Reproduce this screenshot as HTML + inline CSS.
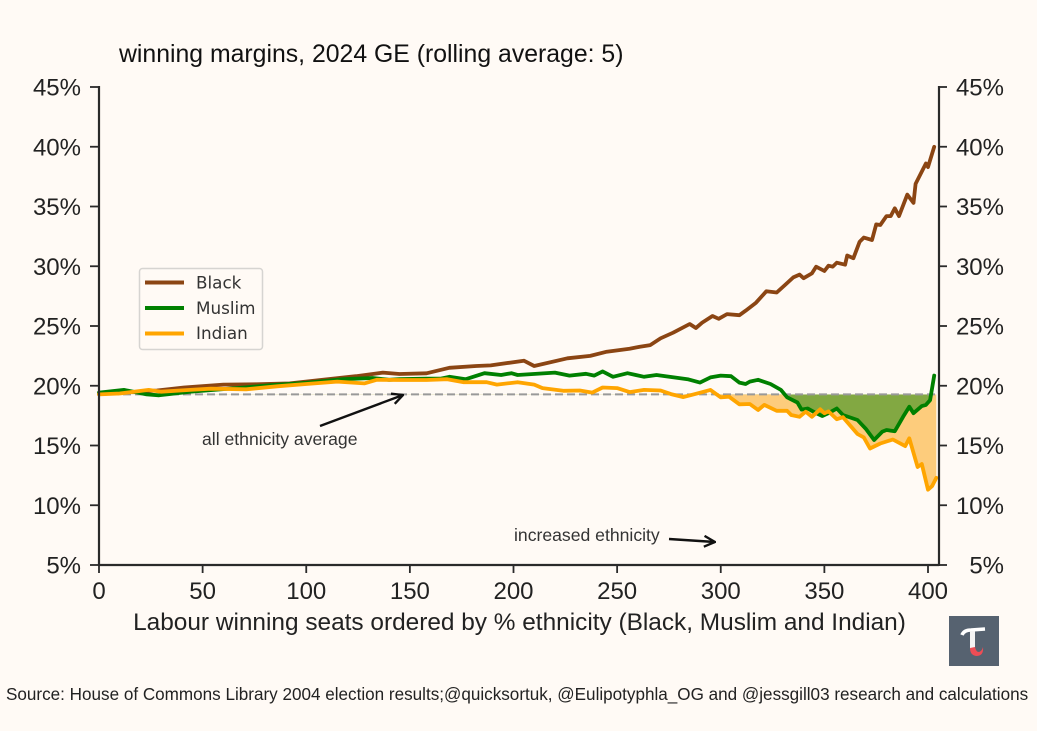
<!DOCTYPE html>
<html lang="en">
<head>
<meta charset="utf-8">
<title>Winning margins, 2024 GE</title>
<style>
html,body{margin:0;padding:0;background:#fffaf5;}
body{width:1037px;height:731px;overflow:hidden;}
svg{display:block;font-family:"Liberation Sans",Arial,sans-serif;filter:blur(0.35px);}
</style>
</head>
<body>
<svg id="chart" width="1037" height="731" viewBox="0 0 1037 731">
  <rect x="0" y="0" width="1037" height="731" fill="#fffaf5"/>
  <text x="119" y="62" font-size="24.8" fill="#111">winning margins, 2024 GE (rolling average: 5)</text>
  <g id="fills"></g>
  <g id="baseline"></g>
  <g id="lines"></g>
  <g id="axes"></g>
  <defs>
    <clipPath id="belowBase"><rect id="belowRect" x="0" y="0" width="1037" height="731"/></clipPath>
    <marker id="arrowHead" viewBox="0 0 12 12" refX="11" refY="6" markerWidth="13" markerHeight="13" orient="auto" markerUnits="userSpaceOnUse"><path d="M1,1 L11,6 L1,11" fill="none" stroke="#111" stroke-width="2.2"/></marker>
  </defs>

  <g>
    <rect x="139.5" y="268.5" width="123" height="81" rx="3" fill="#fffaf5" stroke="#d6d4d1" stroke-width="1.5"/>
    <line x1="145" y1="282.5" x2="184" y2="282.5" stroke="#8b4513" stroke-width="4"/>
    <text x="196" y="288.5" font-family="'DejaVu Sans',sans-serif" font-size="16.8" fill="#333">Black</text>
    <line x1="145" y1="308" x2="184" y2="308" stroke="#008000" stroke-width="4"/>
    <text x="196" y="314" font-family="'DejaVu Sans',sans-serif" font-size="16.8" fill="#333">Muslim</text>
    <line x1="145" y1="333.5" x2="184" y2="333.5" stroke="#ffa500" stroke-width="4"/>
    <text x="196" y="339" font-family="'DejaVu Sans',sans-serif" font-size="16.8" fill="#333">Indian</text>
  </g>

  <text x="202" y="445" font-size="17.6" fill="#333">all ethnicity average</text>
  <line x1="320" y1="426" x2="403" y2="395" stroke="#111" stroke-width="2.4" marker-end="url(#arrowHead)"/>
  <text x="514" y="541" font-size="17.6" fill="#333">increased ethnicity</text>
  <line x1="669" y1="539" x2="715" y2="542" stroke="#111" stroke-width="2.4" marker-end="url(#arrowHead)"/>

  <text x="519.5" y="630" text-anchor="middle" font-size="24.4" fill="#222">Labour winning seats ordered by % ethnicity (Black, Muslim and Indian)</text>

  <g>
    <rect x="949" y="616" width="50" height="50" fill="#566270"/>
    <path d="M962,635 Q964,630 971,630 L985,629" fill="none" stroke="#fff" stroke-width="3.6"/>
    <path d="M972.5,631 L972.5,649" fill="none" stroke="#f4f4f4" stroke-width="5"/>
    <path d="M970,648 L975,647 Q976,652 979,652 Q982,651 983,647 Q984,656 976,656 Q970,655 970,648 Z" fill="#ee4d55"/>
  </g>

  <text x="6" y="700" font-size="17.1" fill="#222">Source: House of Commons Library 2004 election results;@quicksortuk, @Eulipotyphla_OG and @jessgill03 research and calculations</text>
</svg>
<script>
var xTicks = [0, 50, 100, 150, 200, 250, 300, 350, 400];
var yTicks = [5, 10, 15, 20, 25, 30, 35, 40, 45];
var averageMargin = 19.28;

var blackSeats = [0,10,28,41,60,76,92,108,124,137,145,158,169,182,189,205,210,226,237,245,256,261,266,271,277,285,288,291,296,299,303,309,312,317,322,327,331,335,338,340,344,346,350,352,354,356,360,361,364,367,369,373,375,377,380,382,384,386,390,393,394,399,400,403];
var blackValues = [19.3,19.4,19.6,19.85,20.1,20.12,20.2,20.5,20.8,21.1,20.98,21.04,21.5,21.65,21.7,22.1,21.65,22.3,22.5,22.85,23.1,23.27,23.4,23.97,24.44,25.17,24.83,25.28,25.84,25.6,26.0,25.9,26.28,26.95,27.9,27.8,28.43,29.07,29.3,29.0,29.4,29.96,29.6,30.05,29.96,30.3,30.13,30.9,30.67,32.05,32.4,32.2,33.5,33.45,34.2,34.2,34.85,34.2,36.0,35.3,36.9,38.6,38.3,40.0];

var muslimSeats = [0,12,23,29,44,70,83,100,118,132,140,145,158,165,169,177,186,194,199,202,220,227,235,239,243,248,255,263,269,284,290,295,300,305,309,312,314,318,324,329,332,337,339,342,346,349,352,356,359,366,370,374,378,380,384,388,391,393,397,399,401,403];
var muslimValues = [19.42,19.65,19.28,19.2,19.5,19.85,20.05,20.25,20.55,20.65,20.5,20.55,20.6,20.6,20.75,20.55,21.05,20.9,21.05,20.9,21.1,20.85,21.0,20.85,21.2,20.75,21.05,20.75,20.9,20.55,20.26,20.7,20.85,20.8,20.26,20.15,20.35,20.5,20.15,19.65,19.03,18.6,18.0,18.1,17.7,17.47,17.7,18.1,17.55,17.13,16.4,15.46,16.16,16.3,16.2,17.4,18.25,17.7,18.3,18.4,18.8,20.85];

var indianSeats = [0,10,24,30,44,54,71,86,100,115,128,134,145,158,168,176,187,192,202,210,214,224,232,238,243,250,256,263,271,276,282,288,295,300,304,309,314,318,321,327,332,334,338,341,344,348,350,352,356,359,366,369,372,377,383,389,391,395,397,400,402,404];
var indianValues = [19.28,19.35,19.65,19.5,19.65,19.75,19.7,19.95,20.15,20.35,20.2,20.5,20.48,20.48,20.55,20.3,20.3,20.1,20.3,20.1,19.8,19.58,19.6,19.43,19.85,19.8,19.47,19.65,19.6,19.3,19.05,19.33,19.65,19.03,19.08,18.45,18.47,17.97,18.4,17.9,17.9,17.55,17.4,17.83,17.4,18.03,17.7,17.85,17.2,17.37,15.96,15.68,14.75,15.17,15.5,14.95,15.6,13.2,13.45,11.3,11.6,12.3];

function xScale(seat) { return 99 + seat * 2.0725; }
function yScale(pct) { return 565 - (pct - 5) * 11.95; }
function ptsOf(seats, values) {
  return seats.map(function (s, i) { return xScale(s).toFixed(1) + ',' + yScale(values[i]).toFixed(1); });
}
var NS = 'http://www.w3.org/2000/svg';
function mk(tag, attrs, parent) {
  var el = document.createElementNS(NS, tag);
  for (var k in attrs) { el.setAttribute(k, attrs[k]); }
  parent.appendChild(el);
  return el;
}

var baseY = yScale(averageMargin);
var belowRect = document.getElementById('belowRect');
belowRect.setAttribute('y', baseY);
belowRect.setAttribute('height', 731 - baseY);

var fills = document.getElementById('fills');
function addFill(seats, values, colour, name) {
  var first = xScale(seats[0]).toFixed(1) + ',' + baseY;
  var last = xScale(seats[seats.length - 1]).toFixed(1) + ',' + baseY;
  var poly = mk('polygon', {
    points: first + ' ' + ptsOf(seats, values).join(' ') + ' ' + last,
    fill: colour,
    'clip-path': 'url(#belowBase)'
  }, fills);
  
  
}
addFill(indianSeats, indianValues, '#fdcc7c', 'indian-fill');
addFill(muslimSeats, muslimValues, '#82a842', 'muslim-fill');

var baseG = document.getElementById('baseline');
var baseLine = mk('line', {
  x1: xScale(0), x2: xScale(404), y1: baseY, y2: baseY,
  stroke: '#999', 'stroke-width': 2, 'stroke-dasharray': '8 4'
}, baseG);



var linesG = document.getElementById('lines');
function addLine(seats, values, colour, name) {
  var line = mk('polyline', {
    points: ptsOf(seats, values).join(' '),
    fill: 'none', stroke: colour, 'stroke-width': 3.8, 'stroke-linejoin': 'round', 'stroke-linecap': 'round'
  }, linesG);
  
  
}
addLine(blackSeats, blackValues, '#8b4513', 'black-line');
addLine(muslimSeats, muslimValues, '#008000', 'muslim-line');
addLine(indianSeats, indianValues, '#ffa500', 'indian-line');

var axes = document.getElementById('axes');
var AXIS = '#2a2a2a';
var leftX = 99, rightX = 939, bottomY = 565;
var leftSpine = mk('line', {x1: leftX, x2: leftX, y1: yScale(45) - 1, y2: bottomY + 1, stroke: AXIS, 'stroke-width': 2.2}, axes);


var rightSpine = mk('line', {x1: rightX, x2: rightX, y1: yScale(45) - 1, y2: bottomY + 1, stroke: AXIS, 'stroke-width': 2.2}, axes);


var bottomSpine = mk('line', {x1: leftX, x2: rightX, y1: bottomY, y2: bottomY, stroke: AXIS, 'stroke-width': 2.2}, axes);



xTicks.forEach(function (t) {
  var x = xScale(t);
  var tick = mk('line', {x1: x, x2: x, y1: bottomY, y2: bottomY + 8, stroke: AXIS, 'stroke-width': 1.8}, axes);
  
  
  var label = mk('text', {x: x, y: 599, 'text-anchor': 'middle', 'font-size': 24, fill: '#222'}, axes);
  label.textContent = String(t);
  
  
});

yTicks.forEach(function (t) {
  var y = yScale(t);
  var tickL = mk('line', {x1: leftX - 9, x2: leftX, y1: y, y2: y, stroke: AXIS, 'stroke-width': 1.8}, axes);
  
  
  var tickR = mk('line', {x1: rightX, x2: rightX + 8, y1: y, y2: y, stroke: AXIS, 'stroke-width': 1.8}, axes);
  
  
  var labelL = mk('text', {x: 81, y: y + 8.5, 'text-anchor': 'end', 'font-size': 24, fill: '#222'}, axes);
  labelL.textContent = t + '%';
  
  
  var labelR = mk('text', {x: 1004, y: y + 8.5, 'text-anchor': 'end', 'font-size': 24, fill: '#222'}, axes);
  labelR.textContent = t + '%';
  
  
});
</script>
</body>
</html>
